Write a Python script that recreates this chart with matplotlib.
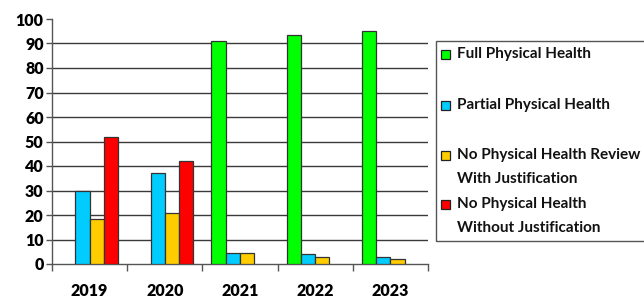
import matplotlib
matplotlib.use("Agg")
import matplotlib.pyplot as plt
from matplotlib.patches import Rectangle
import numpy as np

years = ["2019", "2020", "2021", "2022", "2023"]
series_names = ["Full Physical Health", "Partial Physical Health",
                "No Physical Health Review\nWith Justification",
                "No Physical Health\nWithout Justification"]
full = [0, 0, 91, 93.5, 95]
partial = [30, 37, 4.4, 4, 3]
review_just = [18.2, 20.7, 4.4, 3, 2]
no_just = [52, 42, 0, 0, 0]
colors = ["#00FF00", "#00CCFF", "#FFCC00", "#FF0000"]
yticks = [0, 10, 20, 30, 40, 50, 60, 70, 80, 90, 100]

plt.rcParams['font.family'] = ['Lato', 'DejaVu Sans']
plt.rcParams['font.weight'] = 'bold'

W, H = 644, 300
fig = plt.figure(figsize=(W / 100, H / 100), dpi=100)
ax = fig.add_axes([52 / W, 36 / H, (428 - 52) / W, (264 - 19) / H])

x = np.arange(len(years))
bw = 0.19
data = [full, partial, review_just, no_just]
for i, (vals, c) in enumerate(zip(data, colors)):
    offs = (i - 1.5) * bw
    for xi, v in zip(x, vals):
        if v > 0:
            ax.bar(xi + offs, v, bw, color=c, edgecolor="#333333",
                   linewidth=0.9, zorder=3)

ax.set_xlim(-0.5, len(years) - 0.5)
ax.set_ylim(0, 100)
ax.set_yticks(yticks)
ax.set_yticklabels([str(t) for t in yticks], fontsize=11.5, fontweight='heavy')
ax.hlines(yticks[1:-1], -0.5, len(years) - 0.5, colors="#3a3a3a",
          linewidth=1.0, zorder=1)

ax.set_xticks(x)
ax.set_xticklabels(years, fontsize=11.5, fontweight='heavy')
ax.tick_params(axis='x', length=0, pad=14)
ax.set_xticks(np.arange(len(years) + 1) - 0.5, minor=True)
ax.tick_params(axis='x', which='minor', length=5, width=1, color="#555555", direction='out')
ax.tick_params(axis='y', length=4, width=1, color="#555555", pad=2)

for s in ['top', 'right']:
    ax.spines[s].set_visible(False)
for s in ['left', 'bottom']:
    ax.spines[s].set_color("#555555")
    ax.spines[s].set_linewidth(1.0)

# legend drawn manually
def fx(px):
    return px / W

def fy(py):
    return 1 - py / H

box = Rectangle((fx(436), fy(240.7)), fx(700) - fx(436), fy(40.7) - fy(240.7),
                transform=fig.transFigure, fill=False, edgecolor="#555555",
                linewidth=1.0)
fig.add_artist(box)
marker_y = [54.3, 105, 155, 204.3]
for name, c, my in zip(series_names, colors, marker_y):
    sq = Rectangle((fx(441), fy(my + 4.5)), fx(9), 9 / H,
                   transform=fig.transFigure, facecolor=c,
                   edgecolor="#222222", linewidth=0.9)
    fig.add_artist(sq)
    lines = name.split("\n")
    for k, ln in enumerate(lines):
        fig.text(fx(457), fy(my + k * 24), ln, fontsize=11,
                 fontweight='bold', va='center', ha='left', color="#111111")

fig.savefig("out.png", dpi=100)
